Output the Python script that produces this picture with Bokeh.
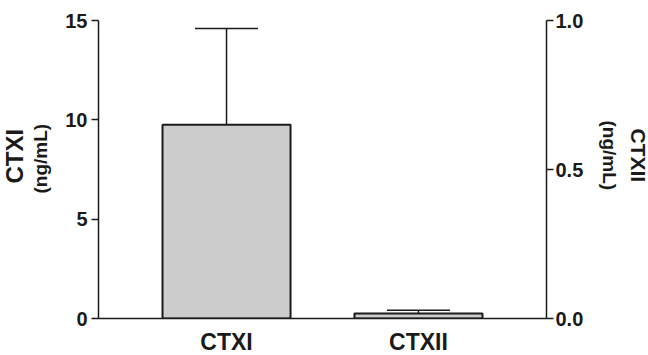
from bokeh.plotting import figure
from bokeh.models import (Range1d, LinearAxis, FixedTicker, ColumnDataSource, Whisker,
                          TeeHead, Title, NumeralTickFormatter)
from bokeh.embed import file_html
from bokeh.resources import INLINE

# ---- data ----
categories = ["CTXI", "CTXII"]
means = [9.75, 0.017]
errors = [4.85, 0.011]
left_ticks = [0, 5, 10, 15]
right_ticks = [0.0, 0.5, 1.0]
unit_label = "(ng/mL)"

FONT = "Liberation Sans"
INK = "#1a1a1a"

p = figure(frame_width=448, frame_height=298, output_backend="svg", toolbar_location=None,
           x_range=Range1d(-0.667, 1.667), y_range=Range1d(0, 15),
           min_border_left=98, min_border_right=102, min_border_top=20, min_border_bottom=30)
p.extra_y_ranges = {"right": Range1d(0, 1.0)}
p.outline_line_color = None
p.xgrid.visible = False
p.ygrid.visible = False
p.background_fill_color = "white"
p.border_fill_color = "white"

xs = list(range(len(categories)))
src_l = ColumnDataSource(dict(x=[xs[0]], top=[means[0]], lower=[means[0]], upper=[means[0] + errors[0]]))
src_r = ColumnDataSource(dict(x=[xs[1]], top=[means[1]], lower=[means[1]], upper=[means[1] + errors[1]]))

bar_kw = dict(width=0.667, fill_color="#cccccc", line_color=INK, line_width=2)
p.vbar(x="x", top="top", bottom=0, source=src_l, **bar_kw)
p.vbar(x="x", top="top", bottom=0, source=src_r, y_range_name="right", **bar_kw)

for src, rn in ((src_l, "default"), (src_r, "right")):
    w = Whisker(base="x", lower="lower", upper="upper", source=src, dimension="height",
                upper_head=TeeHead(size=63, line_width=1.5, line_color=INK), lower_head=None,
                line_width=1.5, line_color=INK, y_range_name=rn, level="overlay")
    p.add_layout(w)

def style_axis(ax, size):
    ax.axis_line_width = 1.5
    ax.axis_line_color = INK
    ax.major_tick_line_color = INK
    ax.major_tick_line_width = 1.5
    ax.major_tick_in = 0
    ax.major_tick_out = 7
    ax.minor_tick_line_color = None
    ax.major_label_text_font = FONT
    ax.major_label_text_font_style = "bold"
    ax.major_label_text_font_size = size
    ax.major_label_text_color = INK

# left axis
ya = p.yaxis[0]
ya.ticker = FixedTicker(ticks=left_ticks)
style_axis(ya, "20px")
ya.major_label_standoff = 4

# right axis
ra = LinearAxis(y_range_name="right", ticker=FixedTicker(ticks=right_ticks),
                formatter=NumeralTickFormatter(format="0.0"))
style_axis(ra, "20px")
ra.major_label_standoff = 2
p.add_layout(ra, "right")

# bottom axis
xa = p.xaxis[0]
xa.ticker = FixedTicker(ticks=xs)
xa.major_label_overrides = {i: c for i, c in zip(xs, categories)}
style_axis(xa, "23px")
xa.major_tick_out = 0
xa.major_tick_line_color = None
xa.major_label_standoff = 10

# side titles (two-line axis titles)
p.add_layout(Title(text=unit_label, align="left", offset=125, text_font=FONT, text_font_style="bold",
                   text_font_size="19px", text_color=INK, standoff=24), "left")
p.add_layout(Title(text=categories[0], align="left", offset=135, text_font=FONT, text_font_style="bold",
                   text_font_size="24px", text_color=INK, standoff=-24), "left")
p.add_layout(Title(text=unit_label, align="left", offset=100, text_font=FONT, text_font_style="bold",
                   text_font_size="19px", text_color=INK, standoff=24), "right")
p.add_layout(Title(text=categories[1], align="left", offset=108, text_font=FONT, text_font_style="bold",
                   text_font_size="21px", text_color=INK, standoff=-14), "right")

open("out.html", "w").write(file_html(p, INLINE))
